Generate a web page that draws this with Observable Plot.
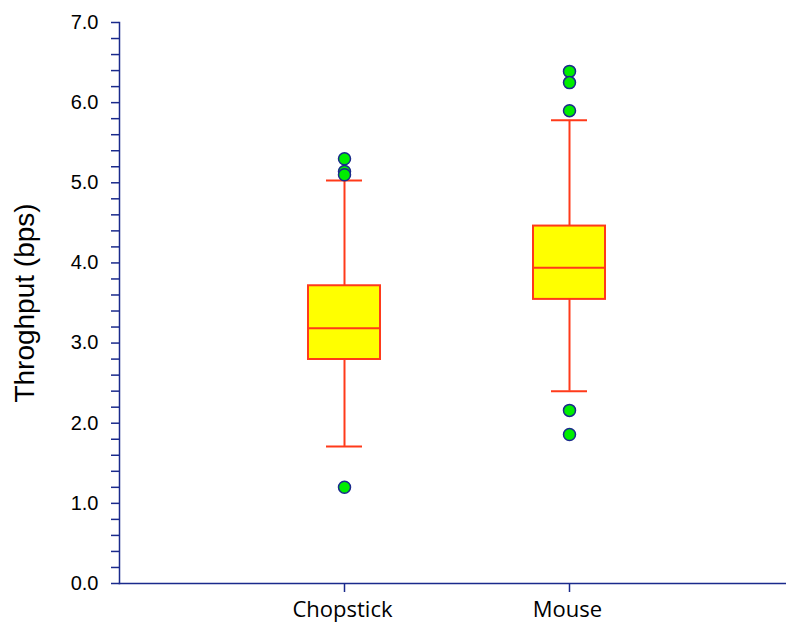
<!DOCTYPE html>
<html>
<head>
<meta charset="utf-8">
<script src="https://cdn.jsdelivr.net/npm/d3@7"></script>
<script src="https://cdn.jsdelivr.net/npm/@observablehq/plot@0.6"></script>
<style>
  body { margin: 0; background: #fff; }
</style>
</head>
<body>
<div id="chart"></div>
<script>
// Throughput summary per input device (box-and-whisker)
const devices     = ["Chopstick", "Mouse"];
const lowWhisker  = [1.71, 2.40];
const q1          = [2.795, 3.545];
const median      = [3.185, 3.94];
const q3          = [3.715, 4.46];
const highWhisker = [5.03, 5.78];

// Points outside the whiskers
const outlierDevice = ["Chopstick", "Chopstick", "Chopstick", "Chopstick", "Mouse", "Mouse", "Mouse", "Mouse", "Mouse"];
const outlierValue  = [5.30, 5.14, 5.10, 1.20, 6.39, 6.25, 5.90, 2.16, 1.86];

// Y axis: labelled ticks and minor ticks
const yLabelTicks = [0, 1, 2, 3, 4, 5, 6, 7];
const yMinorTicks = [0.2, 0.4, 0.6, 0.8, 1.2, 1.4, 1.6, 1.8, 2.2, 2.4, 2.6, 2.8,
                     3.2, 3.4, 3.6, 3.8, 4.2, 4.4, 4.6, 4.8, 5.2, 5.4, 5.6, 5.8,
                     6.2, 6.4, 6.6, 6.8];
const yTitle = "Throghput (bps)";

const boxes = devices.map((d, i) => ({
  device: d, low: lowWhisker[i], q1: q1[i], median: median[i], q3: q3[i], high: highWhisker[i]
}));
const outliers = outlierDevice.map((d, i) => ({device: d, value: outlierValue[i]}));

const axisColor = "#1a2a8c";
const boxStroke = "#ff3a1a";

const chart = Plot.plot({
  width: 786,
  height: 623,
  marginTop: 22,
  marginBottom: 40,
  marginLeft: 119,
  marginRight: 0,
  style: {background: "#fff", color: "#000"},
  x: {type: "band", domain: devices, range: [119, 794], paddingInner: 0.68, paddingOuter: 0.84, align: 0.5},
  y: {domain: [0, 7]},
  marks: [
    // axis lines
    Plot.frame({anchor: "left", stroke: axisColor, strokeWidth: 1.5}),
    Plot.frame({anchor: "bottom", stroke: axisColor, strokeWidth: 1.5}),
    Plot.axisY({ticks: yMinorTicks, tickSize: 8, tickFormat: () => "", stroke: axisColor, strokeWidth: 1.5, label: null}),
    Plot.axisY({ticks: yLabelTicks, tickSize: 8, tickPadding: 13, tickFormat: d3.format(".1f"),
                stroke: axisColor, strokeWidth: 1.5, fill: "#000",
                fontSize: 20, fontFamily: "Liberation Sans, Arial, sans-serif", label: null}),
    // category ticks, then category names
    Plot.axisX({tickSize: 9, tickFormat: () => "", stroke: axisColor, strokeWidth: 1.5, label: null}),
    Plot.axisX({tickSize: 0, tickPadding: 18, fill: "#000", dx: -2,
                fontSize: 22, fontFamily: "Open Sans, sans-serif", label: null}),
    Plot.text([yTitle], {frameAnchor: "left", textAnchor: "middle", dx: -94, rotate: -90, fontSize: 28,
                         fontFamily: "Liberation Sans, Arial, sans-serif", fill: "#000"}),
    // whiskers
    Plot.ruleX(boxes, {x: "device", y1: "low", y2: "q1", stroke: boxStroke, strokeWidth: 2}),
    Plot.ruleX(boxes, {x: "device", y1: "q3", y2: "high", stroke: boxStroke, strokeWidth: 2}),
    Plot.tickY(boxes, {x: "device", y: "low", stroke: boxStroke, strokeWidth: 2, insetLeft: 18, insetRight: 18}),
    Plot.tickY(boxes, {x: "device", y: "high", stroke: boxStroke, strokeWidth: 2, insetLeft: 18, insetRight: 18}),
    // boxes
    Plot.barY(boxes, {x: "device", y1: "q1", y2: "q3", fill: "#ffff00", stroke: boxStroke, strokeWidth: 2}),
    Plot.tickY(boxes, {x: "device", y: "median", stroke: boxStroke, strokeWidth: 2}),
    // outliers
    Plot.dot(outliers, {x: "device", y: "value", r: 6, fill: "#00ee00", stroke: axisColor, strokeWidth: 1.5})
  ]
});

document.getElementById("chart").appendChild(chart);
</script>
</body>
</html>
